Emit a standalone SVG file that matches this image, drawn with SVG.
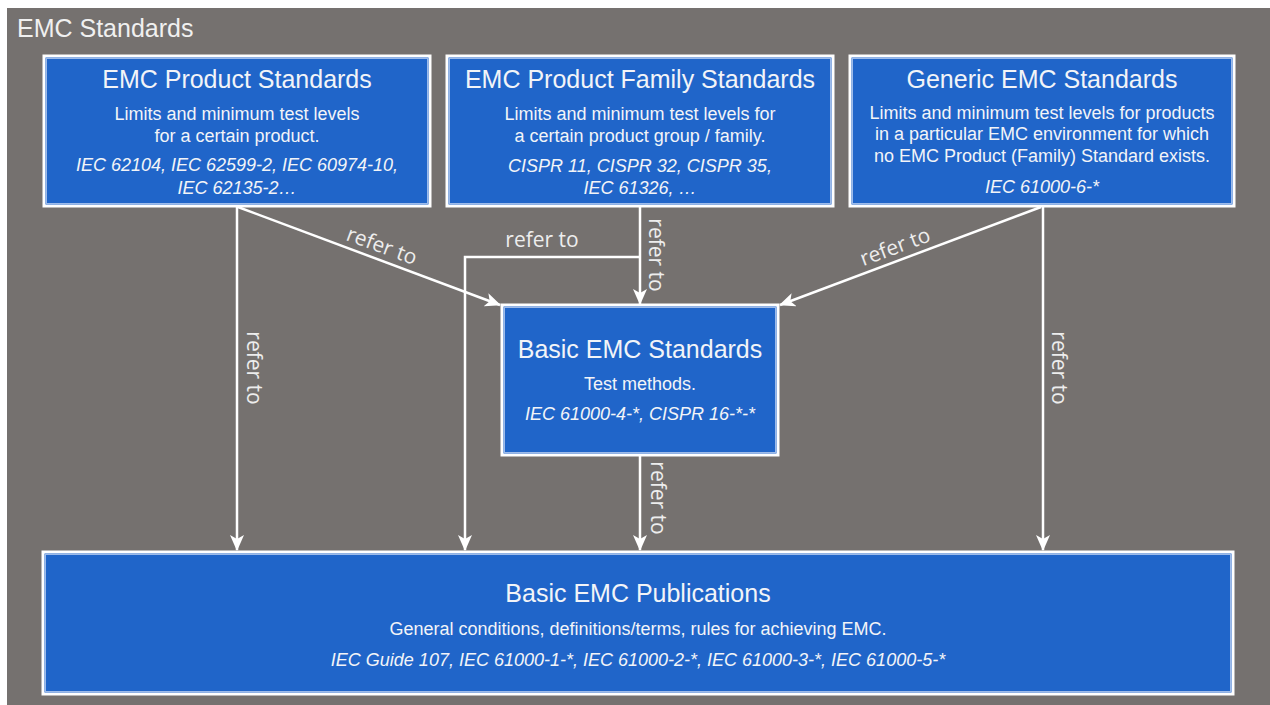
<svg xmlns="http://www.w3.org/2000/svg" width="1270" height="705" viewBox="0 0 1270 705">
<defs>
<style>
.box{fill:#2065C9;stroke:#ffffff;stroke-width:3}
.inner{fill:none;stroke:#9DBBEA;stroke-width:1}
.t{font-family:"Liberation Sans",Arial,sans-serif;fill:#F2F4F8;text-anchor:middle}
.title{font-size:25px}
.sub{font-size:18px}
.it{font-size:18px;font-style:italic}
.conn{fill:none;stroke:#ffffff;stroke-width:2.5}
.lbl{font-family:"Open Sans",sans-serif;font-size:21px;fill:#EDEDED;text-anchor:middle}
</style>
<marker id="ah" markerUnits="userSpaceOnUse" markerWidth="16" markerHeight="14" viewBox="0 0 16 14" refX="15" refY="7" orient="auto">
<path d="M0,0 L16,7 L0,14 L4,7 Z" fill="#ffffff"/>
</marker>
</defs>
<rect x="7" y="8" width="1263" height="697" fill="#75716F"/>
<text x="17" y="37" style="font-family:'Liberation Sans',Arial,sans-serif;font-size:25px;fill:#F0F0F0">EMC Standards</text>

<g id="connectors">
<line class="conn" x1="237" y1="207" x2="237" y2="550" marker-end="url(#ah)"/>
<line class="conn" x1="238" y1="207" x2="500" y2="305" marker-end="url(#ah)"/>
<line class="conn" x1="640" y1="207" x2="640" y2="304" marker-end="url(#ah)"/>
<polyline class="conn" points="640,257 465,257 465,550" marker-end="url(#ah)"/>
<line class="conn" x1="1041" y1="207" x2="780" y2="305" marker-end="url(#ah)"/>
<line class="conn" x1="1043" y1="207" x2="1043" y2="550" marker-end="url(#ah)"/>
<line class="conn" x1="640" y1="455" x2="640" y2="550" marker-end="url(#ah)"/>
<text class="lbl" transform="translate(247,368) rotate(90)">refer to</text>
<text class="lbl" transform="translate(377,259) rotate(20.4)" y="-7">refer to</text>
<text class="lbl" x="542" y="247">refer to</text>
<text class="lbl" transform="translate(649,255) rotate(90)">refer to</text>
<text class="lbl" transform="translate(900,260) rotate(-20.5)" y="-7">refer to</text>
<text class="lbl" transform="translate(1052,368) rotate(90)">refer to</text>
<text class="lbl" transform="translate(651,498) rotate(90)">refer to</text>
</g>

<g id="product">
<rect class="box" x="44" y="56" width="386" height="150"/>
<rect class="inner" x="46.5" y="58.5" width="381" height="145"/>
<text class="t title" x="237" y="88">EMC Product Standards</text>
<text class="t sub" x="237" y="120">Limits and minimum test levels</text>
<text class="t sub" x="237" y="142">for a certain product.</text>
<text class="t it" x="237" y="171">IEC 62104, IEC 62599-2, IEC 60974-10,</text>
<text class="t it" x="237" y="194">IEC 62135-2…</text>
</g>

<g id="family">
<rect class="box" x="447" y="56" width="386" height="150"/>
<rect class="inner" x="449.5" y="58.5" width="381" height="145"/>
<text class="t title" x="640" y="88">EMC Product Family Standards</text>
<text class="t sub" x="640" y="120">Limits and minimum test levels for</text>
<text class="t sub" x="640" y="142">a certain product group / family.</text>
<text class="t it" x="640" y="172">CISPR 11, CISPR 32, CISPR 35,</text>
<text class="t it" x="640" y="194">IEC 61326, …</text>
</g>

<g id="generic">
<rect class="box" x="850" y="56" width="384" height="150"/>
<rect class="inner" x="852.5" y="58.5" width="379" height="145"/>
<text class="t title" x="1042" y="88">Generic EMC Standards</text>
<text class="t sub" x="1042" y="119">Limits and minimum test levels for products</text>
<text class="t sub" x="1042" y="140">in a particular EMC environment for which</text>
<text class="t sub" x="1042" y="162">no EMC Product (Family) Standard exists.</text>
<text class="t it" x="1042" y="193">IEC 61000-6-*</text>
</g>

<g id="basic">
<rect class="box" x="502" y="305" width="276" height="150"/>
<rect class="inner" x="504.5" y="307.5" width="271" height="145"/>
<text class="t title" x="640" y="358">Basic EMC Standards</text>
<text class="t sub" x="640" y="390">Test methods.</text>
<text class="t it" x="640" y="420">IEC 61000-4-*, CISPR 16-*-*</text>
</g>

<g id="publications">
<rect class="box" x="43" y="552" width="1190" height="142"/>
<rect class="inner" x="45.5" y="554.5" width="1185" height="137"/>
<text class="t title" x="638" y="602">Basic EMC Publications</text>
<text class="t sub" x="638" y="635">General conditions, definitions/terms, rules for achieving EMC.</text>
<text class="t it" x="638" y="666">IEC Guide 107, IEC 61000-1-*, IEC 61000-2-*, IEC 61000-3-*, IEC 61000-5-*</text>
</g>
</svg>
